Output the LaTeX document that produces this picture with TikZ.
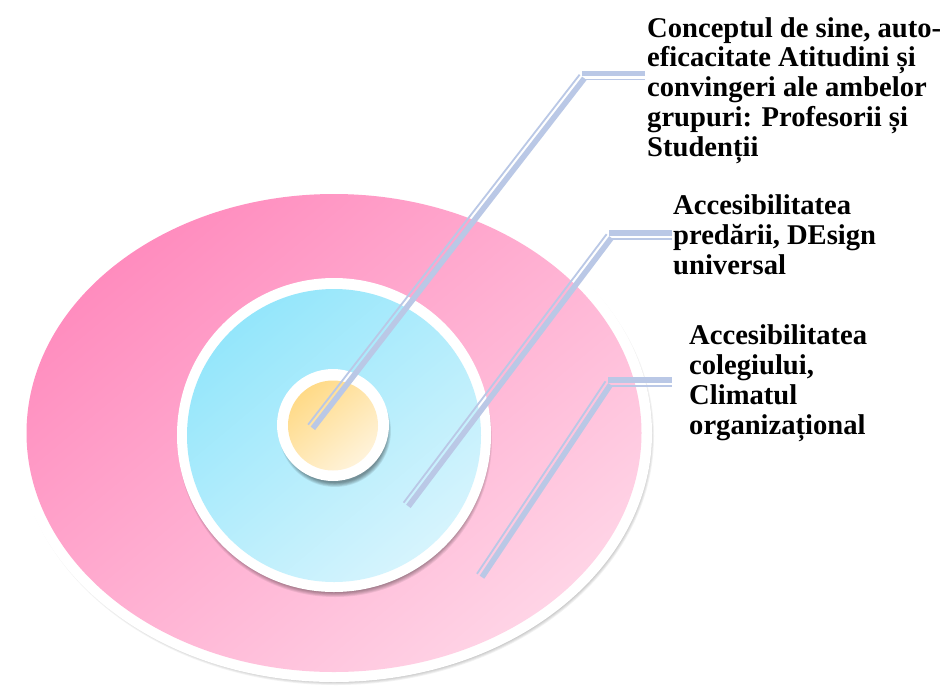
\documentclass[tikz,border=0pt]{standalone}
\usepackage{fontspec}
\setmainfont{Liberation Serif}
\usetikzlibrary{calc}
\definecolor{pinkA}{RGB}{255,140,190}
\definecolor{pinkB}{RGB}{255,212,230}
\definecolor{blueA}{RGB}{148,230,251}
\definecolor{blueB}{RGB}{214,244,253}
\definecolor{yelA}{RGB}{255,218,135}
\definecolor{yelB}{RGB}{255,243,218}
\definecolor{lineblue}{RGB}{186,200,230}
\newcommand\twinconnector[3]{%
  \draw[thickln] ($(#1)!3pt!-90:(#2)$) -- ($(#2)!3pt!90:(#1)$);
  \draw[thinln] ($(#1)!3pt!90:(#2)$) -- ($(#2)!3pt!-90:(#1)$);
  \draw[thickln] ([yshift=3pt]#2) -- ([yshift=3pt]#3);
  \draw[thinln] ([yshift=-3pt]#2) -- ([yshift=-3pt]#3);
}
\begin{document}
\begin{tikzpicture}[x=1pt,y=1pt,
  lbl/.style={anchor=base west, inner sep=0pt, align=left,
    font=\fontsize{28.6}{29.7}\selectfont\bfseries},
  thickln/.style={draw=lineblue, line width=5.6pt},
  thinln/.style={draw=lineblue, line width=1.8pt}]
\useasboundingbox[fill=white] (0,0) rectangle (948,-686);
% outer disc
\foreach \i in {0,...,5}
  \fill[black, opacity=0.05] (336,-436) ellipse [x radius={318-\i*0.9}, y radius={249-\i*0.9}];
\fill[white] (334,-433) ellipse [x radius=318, y radius=249];
\shade[top color=pinkA, bottom color=pinkB, shading angle=40]
  (334,-433) ellipse [x radius=307.5, y radius=239];
% middle disc
\foreach \i in {0,...,5}
  \fill[black, opacity=0.07] (335,-440) ellipse [x radius={157-\i*0.9}, y radius={157-\i*0.9}];
\fill[white] (334,-435) ellipse [x radius=157, y radius=157];
\shade[top color=blueA, bottom color=blueB, shading angle=40]
  (334,-435.5) ellipse [x radius=147, y radius=146.5];
% inner disc
\foreach \i in {0,...,5}
  \fill[black, opacity=0.08] (335,-431) ellipse [x radius={56-\i*0.8}, y radius={56-\i*0.8}];
\fill[white] (333,-425) circle [radius=56];
\shade[top color=yelA, bottom color=yelB, shading angle=40]
  (333,-425.5) circle [radius=45];
% labels (base anchor = baseline of the last line)
\node[lbl] (t1) at (647,-156) {Conceptul de sine, auto-\\eficacitate Atitudini și\\convingeri ale ambelor\\grupuri: Profesorii și\\Studenții};
\node[lbl] (t2) at (673,-274) {Accesibilitatea\\predării, DEsign\\universal};
\node[lbl] (t3) at (689,-434) {Accesibilitatea\\colegiului,\\Climatul\\organizațional};
% connector points
\coordinate (e1) at (310.5,-426.5);
\coordinate (c1) at (582,-76.5);
\coordinate (h1) at (645,-76.5);
\coordinate (e2) at (406,-504.5);
\coordinate (c2) at (609,-236);
\coordinate (h2) at (672,-236);
\coordinate (e3) at (479.5,-575.5);
\coordinate (c3) at (608,-383);
\coordinate (h3) at (672,-383);
\twinconnector{e1}{c1}{h1}
\twinconnector{e2}{c2}{h2}
\twinconnector{e3}{c3}{h3}
\end{tikzpicture}
\end{document}
